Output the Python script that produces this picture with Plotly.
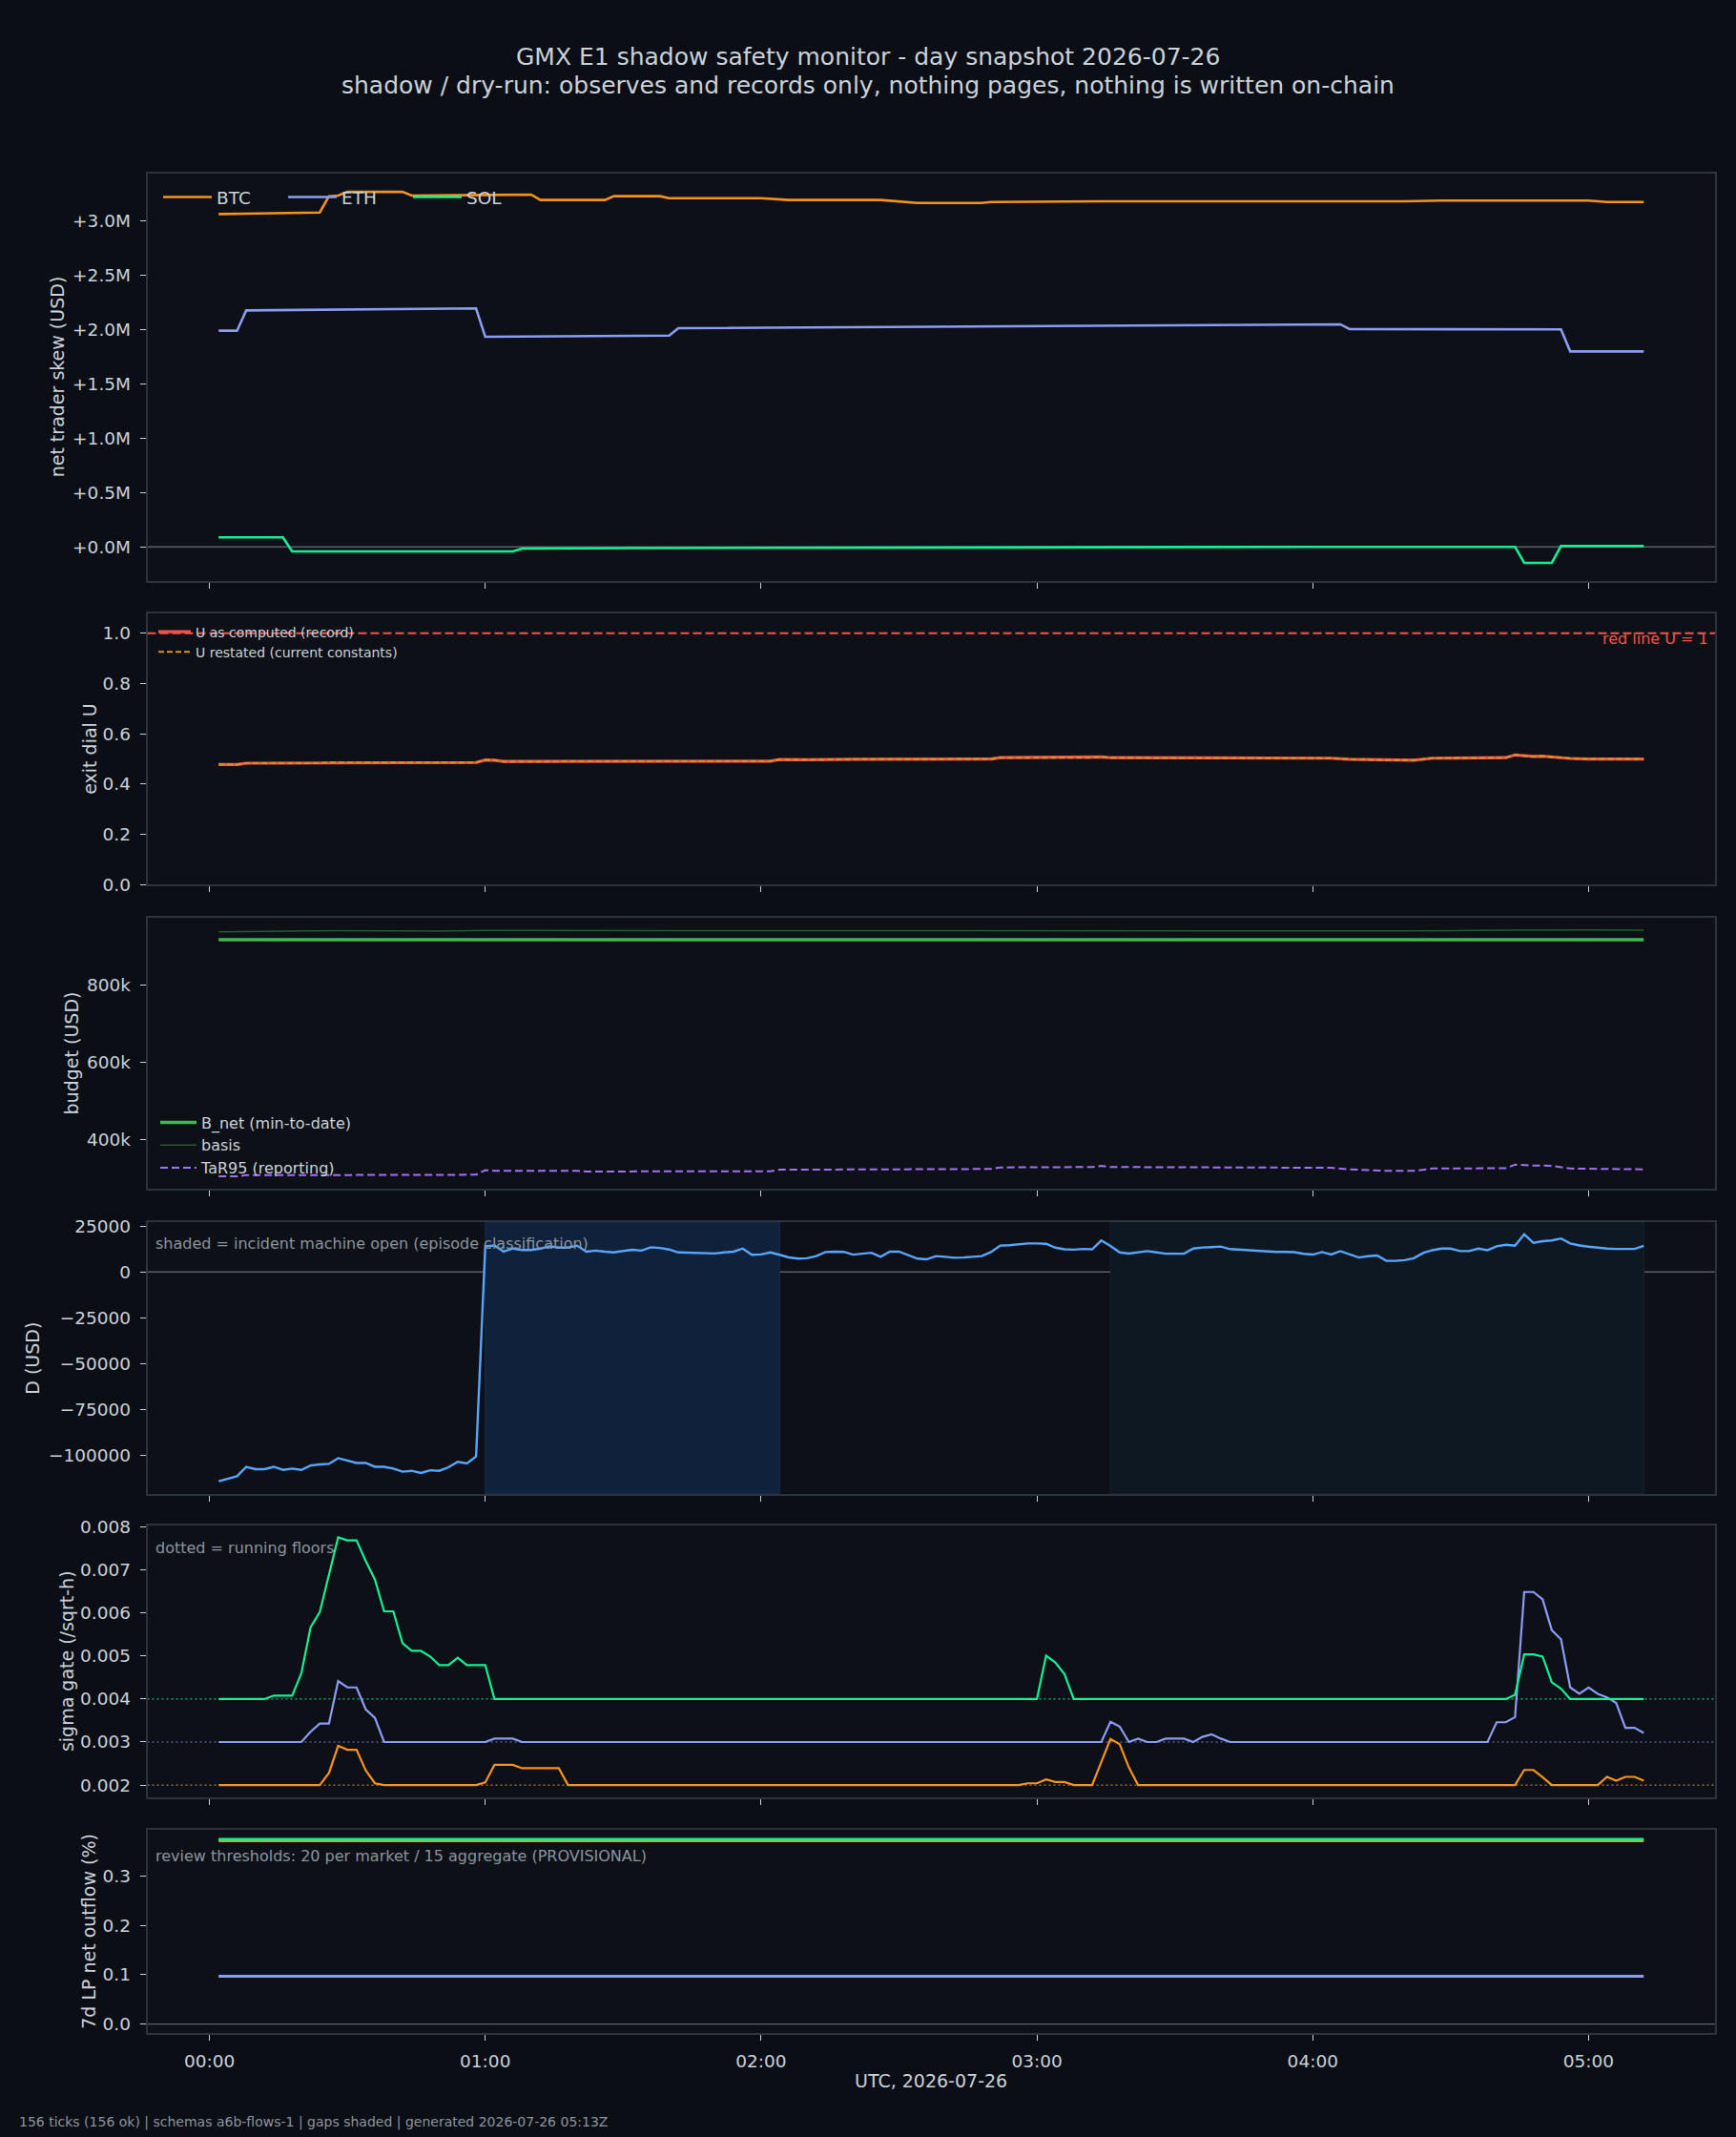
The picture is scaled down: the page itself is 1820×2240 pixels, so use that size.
import pandas as pd
import plotly.graph_objects as go

# ---------------- data (minutes after 00:00 UTC, 2026-07-26) ----------------
DAY = "2026-07-26"

# panel 1: net trader skew (USD, millions)
btc_t = [2, 14, 24, 26, 28, 30, 42, 44, 70, 72, 86, 88, 98, 100, 120, 126, 146, 154, 168, 170, 194, 260, 268, 300, 304, 312]
btc_v = [3.061, 3.070, 3.075, 3.225, 3.230, 3.265, 3.265, 3.230, 3.240, 3.190, 3.190, 3.225, 3.225, 3.207, 3.207, 3.190,
         3.190, 3.163, 3.163, 3.172, 3.178, 3.178, 3.185, 3.185, 3.172, 3.172]
eth_t = [2, 6, 8, 58, 60, 100, 102, 178, 186, 246, 248, 284, 288, 294, 296, 312]
eth_v = [1.988, 1.988, 2.175, 2.193, 1.932, 1.944, 2.011, 2.032, 2.028, 2.047, 2.003, 2.005, 2.000, 2.000, 1.798, 1.798]
sol_t = [2, 16, 18, 66, 68, 92, 94, 240, 284, 286, 292, 294, 312]
sol_v = [0.088, 0.088, -0.041, -0.041, -0.015, -0.015, -0.010, 0.001, 0.001, -0.146, -0.146, 0.008, 0.008]
skew_ticks = [0.0, 0.5, 1.0, 1.5, 2.0, 2.5, 3.0]
skew_labels = ["+0.0M", "+0.5M", "+1.0M", "+1.5M", "+2.0M", "+2.5M", "+3.0M"]

# panel 2: exit dial U
u_t = [2, 6, 8, 24, 26, 58, 60, 62, 64, 100, 122, 124, 130, 140, 150, 160, 170, 172, 186, 192, 194, 196, 210, 224,
       244, 248, 256, 262, 266, 282, 284, 288, 290, 292, 296, 300, 312]
u_v = [0.478, 0.478, 0.483, 0.483, 0.486, 0.486, 0.496, 0.495, 0.490, 0.491, 0.491, 0.498, 0.497, 0.499, 0.500, 0.499,
       0.500, 0.505, 0.506, 0.505, 0.508, 0.505, 0.504, 0.503, 0.503, 0.499, 0.495, 0.495, 0.503, 0.505, 0.516, 0.510,
       0.511, 0.508, 0.502, 0.500, 0.500]
u_red_line = 1.0

# panel 3: budget (USD)
bnet_t = [2, 312]
bnet_v = [917500, 917500]
basis_t = [2, 20, 28, 50, 60, 100, 140, 180, 220, 260, 280, 290, 300, 312]
basis_v = [938000, 939000, 941000, 939500, 941700, 941000, 940500, 941500, 941000, 940000, 942000, 943000, 942500, 942000]
tar_t = [2, 6, 8, 24, 26, 58, 60, 62, 80, 82, 100, 122, 124, 130, 150, 170, 172, 192, 194, 196, 224, 244, 248, 256,
         262, 266, 282, 284, 288, 292, 296, 312]
tar_v = [304000, 304000, 306700, 306700, 308000, 308000, 320000, 318000, 318000, 316000, 317000, 317000, 321000, 321000,
         322000, 323000, 327000, 328000, 331000, 328000, 326000, 326000, 322000, 318000, 318000, 324000, 325000, 334000,
         332000, 331000, 324000, 322000]
budget_ticks = [400000, 600000, 800000]
budget_labels = ["400k", "600k", "800k"]

# panel 4: D (USD), one value per 2-minute tick 00:02 .. 05:12
d_v = [-114200, -112800, -111500, -106400, -107600, -107600, -106300, -108000, -107300, -108000,
       -105600, -105000, -104700, -101600, -102800, -104200, -104200, -106300, -106300, -107300,
       -109000, -108500, -109700, -108200, -108500, -106600, -103600, -104500, -100700, 14000,
       14500, 11100, 12800, 12000, 12000, 12800, 14000, 13300, 13300, 14400,
       11100, 11700, 11100, 10700, 11500, 12100, 11700, 13500, 13100, 12300,
       10700, 10600, 10600, 10300, 10100, 10700, 11100, 12800, 9400, 9600,
       10700, 9400, 8000, 7300, 7500, 8700, 10900, 11100, 11000, 9500,
       9900, 10500, 8300, 11100, 11100, 9000, 7300, 6900, 8700, 8300,
       7800, 7900, 8200, 8700, 10900, 14400, 14600, 15000, 15600, 15600,
       15400, 13300, 12400, 12200, 12600, 12400, 17200, 14200, 10700, 10100,
       10600, 11400, 10700, 10000, 10000, 10000, 12800, 13400, 13600, 13900,
       12500, 12200, 11900, 11400, 11000, 11000, 11000, 10800, 9900, 9500,
       10900, 9600, 11400, 9700, 7900, 8600, 9000, 6100, 6100, 6500,
       7500, 10400, 11900, 12800, 12800, 11400, 11400, 12800, 11900, 14000,
       14900, 14400, 20600, 15900, 16800, 17200, 18300, 15600, 14500, 13800,
       13200, 12800, 12600, 12600, 12600, 14300]
incident_windows = [(60, 124), (196, 312)]
d_ticks = [-100000, -75000, -50000, -25000, 0, 25000]
d_labels = ["\u2212100000", "\u221275000", "\u221250000", "\u221225000", "0", "25000"]

# panel 5: sigma gate (/sqrt-h)
sig_btc_t = [2, 24, 26, 28, 30, 32, 34, 36, 38, 58, 60, 62, 64, 66, 68, 70, 72, 74, 76, 78, 176, 178, 180, 182, 184,
             186, 188, 192, 194, 196, 198, 200, 202, 284, 286, 288, 290, 292, 302, 304, 306, 308, 310, 312]
sig_btc_v = [0.002, 0.002, 0.00228, 0.00291, 0.00282, 0.00282, 0.00234, 0.00204, 0.002, 0.002, 0.00206, 0.00247,
             0.00247, 0.00247, 0.00239, 0.00239, 0.00239, 0.00239, 0.00239, 0.002, 0.002, 0.00204, 0.00204, 0.00213,
             0.00207, 0.00207, 0.002, 0.002, 0.00254, 0.00307, 0.00295, 0.00241, 0.002, 0.002, 0.00235, 0.00235,
             0.00218, 0.002, 0.002, 0.00219, 0.0021, 0.00219, 0.00219, 0.0021]
sig_eth_t = [2, 20, 22, 24, 26, 28, 30, 32, 34, 36, 38, 60, 62, 64, 66, 68, 194, 196, 198, 200, 202, 204, 206, 208,
             210, 212, 214, 216, 218, 220, 222, 278, 280, 282, 284, 286, 288, 290, 292, 294, 296, 298, 300, 302, 304,
             306, 308, 310, 312]
sig_eth_v = [0.003, 0.003, 0.00324, 0.00343, 0.00343, 0.00442, 0.00427, 0.00427, 0.00376, 0.00356, 0.003, 0.003,
             0.00308, 0.00308, 0.00308, 0.003, 0.003, 0.00347, 0.00336, 0.003, 0.00308, 0.003, 0.003, 0.00308,
             0.00308, 0.00308, 0.003, 0.00312, 0.00318, 0.00308, 0.003, 0.003, 0.00346, 0.00346, 0.00358, 0.00649,
             0.00649, 0.00632, 0.0056, 0.00539, 0.00427, 0.00412, 0.00427, 0.00412, 0.00404, 0.00391, 0.00333,
             0.00333, 0.00321]
sig_sol_t = [2, 12, 14, 18, 20, 22, 24, 26, 28, 30, 32, 34, 36, 38, 40, 42, 44, 46, 48, 50, 52, 54, 56, 58, 60, 62,
             180, 182, 184, 186, 188, 282, 284, 286, 288, 290, 292, 294, 296, 312]
sig_sol_v = [0.004, 0.004, 0.00408, 0.00408, 0.0046, 0.00567, 0.00602, 0.00691, 0.00776, 0.00769, 0.00769, 0.00721,
             0.00678, 0.00604, 0.00604, 0.0053, 0.00512, 0.00512, 0.00499, 0.00479, 0.00479, 0.00496, 0.00479,
             0.00479, 0.00479, 0.004, 0.004, 0.00501, 0.00485, 0.00458, 0.004, 0.004, 0.0041, 0.00504, 0.00504,
             0.00499, 0.00439, 0.00424, 0.004, 0.004]
sig_floors = {"BTC": 0.002, "ETH": 0.003, "SOL": 0.004}
sig_ticks = [0.002, 0.003, 0.004, 0.005, 0.006, 0.007, 0.008]

# panel 6: 7d LP net outflow (%)
lp_t = [2, 312]
lp_btc = [0.372, 0.372]
lp_eth = [0.097, 0.097]
lp_sol = [0.375, 0.375]
lp_ticks = [0.0, 0.1, 0.2, 0.3]

hour_ticks = ["00:00", "01:00", "02:00", "03:00", "04:00", "05:00"]

# ---------------- styling ----------------
W, H = 1820, 2240
BG_PAPER = "#0b0f15"
BG_PLOT = "#0d1117"
SPINE = "#2d333b"
TXT = "#c9d1d9"
MUTED = "#8b949e"
C_BTC, C_ETH, C_SOL = "#f7931a", "#8b9cf4", "#14f195"
FONT = "DejaVu Sans"

base = pd.Timestamp(DAY)


def ts(mins):
    return base + pd.to_timedelta(mins, unit="m")


def px_x(x):
    return x / W


def px_y(y):
    return 1 - y / H


x_left, x_right = 154.5, 1798.0
panels = [(181.7, 609.0), (642.7, 927.3), (961.7, 1246.3), (1281.0, 1565.7), (1599.0, 1884.0), (1918.3, 2131.3)]
y_ranges = [[-0.313, 3.435], [0.0, 1.08], [271000, 975000], [-121000, 27240], [0.0017125, 0.0080375],
            [-0.01875, 0.39375]]
x_range = [base - pd.Timedelta(minutes=13.5), base + pd.Timedelta(minutes=327.5)]

fig = go.Figure()

# panel 1
for name, t, v, c in [("BTC", btc_t, btc_v, C_BTC), ("ETH", eth_t, eth_v, C_ETH), ("SOL", sol_t, sol_v, C_SOL)]:
    fig.add_trace(go.Scatter(x=ts(t), y=v, name=name, mode="lines", line=dict(color=c, width=2.6),
                             xaxis="x", yaxis="y", legend="legend"))

# panel 2
fig.add_trace(go.Scatter(x=ts(u_t), y=u_v, name="U as computed (record)", mode="lines",
                         line=dict(color="#f85149", width=3.2), xaxis="x2", yaxis="y2", legend="legend2",
                         legendgroup="a"))
fig.add_trace(go.Scatter(x=ts(u_t), y=u_v, name="U restated (current constants)", mode="lines",
                         line=dict(color="#d29922", width=2, dash="6px,3px"), xaxis="x2", yaxis="y2",
                         legend="legend2", legendgroup="b"))

# panel 3
fig.add_trace(go.Scatter(x=ts(bnet_t), y=bnet_v, name="B_net (min-to-date)", mode="lines",
                         line=dict(color="#3fb950", width=3.5), xaxis="x3", yaxis="y3", legend="legend3",
                         legendgroup="a"))
fig.add_trace(go.Scatter(x=ts(basis_t), y=basis_v, name="basis", mode="lines",
                         line=dict(color="#1f5f2e", width=1.5), xaxis="x3", yaxis="y3", legend="legend3",
                         legendgroup="b"))
fig.add_trace(go.Scatter(x=ts(tar_t), y=tar_v, name="TaR95 (reporting)", mode="lines",
                         line=dict(color="#a371f7", width=2, dash="8px,4px"), xaxis="x3", yaxis="y3",
                         legend="legend3", legendgroup="c"))

# panel 4
fig.add_trace(go.Scatter(x=pd.date_range(ts(2), periods=len(d_v), freq="2min"), y=d_v, mode="lines",
                         line=dict(color="#58a6ff", width=2.4), xaxis="x4", yaxis="y4", showlegend=False))

# panel 5
for t, v, c in [(sig_btc_t, sig_btc_v, C_BTC), (sig_eth_t, sig_eth_v, C_ETH), (sig_sol_t, sig_sol_v, C_SOL)]:
    fig.add_trace(go.Scatter(x=ts(t), y=v, mode="lines", line=dict(color=c, width=2.2),
                             xaxis="x5", yaxis="y5", showlegend=False))

# panel 6
for v, c in [(lp_btc, C_BTC), (lp_eth, C_ETH), (lp_sol, C_SOL)]:
    fig.add_trace(go.Scatter(x=ts(lp_t), y=v, mode="lines", line=dict(color=c, width=3),
                             xaxis="x6", yaxis="y6", showlegend=False))

layout = dict(
    width=W, height=H, autosize=False, margin=dict(l=0, r=0, t=0, b=0, pad=0, autoexpand=False),
    paper_bgcolor=BG_PAPER, plot_bgcolor=BG_PLOT,
    font=dict(family=FONT, color=TXT, size=18.5),
    showlegend=True, hovermode=False,
)

y_tick_cfg = [
    dict(tickvals=skew_ticks, ticktext=skew_labels),
    dict(tickvals=[0.0, 0.2, 0.4, 0.6, 0.8, 1.0], tickformat=".1f"),
    dict(tickvals=budget_ticks, ticktext=budget_labels),
    dict(tickvals=d_ticks, ticktext=d_labels),
    dict(tickvals=sig_ticks, tickformat=".3f"),
    dict(tickvals=lp_ticks, tickformat=".1f"),
]

for i, ((top, bot), yr, ycfg) in enumerate(zip(panels, y_ranges, y_tick_cfg), start=1):
    sx = "" if i == 1 else str(i)
    layout["xaxis" + sx] = dict(
        domain=[px_x(x_left), px_x(x_right)], anchor="y" + sx, range=x_range, type="date",
        tickvals=[ts(60 * k) for k in range(len(hour_ticks))], ticktext=hour_ticks,
        showticklabels=(i == 6), ticks="outside", ticklen=6, tickwidth=1.2, tickcolor=TXT,
        showline=True, mirror=True, linecolor=SPINE, linewidth=1.6, showgrid=False, zeroline=False,
        tickfont=dict(size=18.5, color=TXT), ticklabelstandoff=6,
    )
    if i != 1:
        layout["xaxis" + sx]["matches"] = "x"
    yax = dict(
        domain=[px_y(bot), px_y(top)], anchor="x" + sx, range=yr, ticks="outside", ticklen=6, tickwidth=1.2,
        tickcolor=TXT, showline=True, mirror=True, linecolor=SPINE, linewidth=1.6, showgrid=False,
        zeroline=False, tickfont=dict(size=18.5, color=TXT), ticklabelstandoff=6,
    )
    yax.update(ycfg)
    layout["yaxis" + sx] = yax

layout["legend"] = dict(x=px_x(166), y=px_y(207), xanchor="left", yanchor="middle", orientation="h",
                        itemwidth=51, entrywidth=65, entrywidthmode="pixels", bgcolor="rgba(0,0,0,0)",
                        borderwidth=0, font=dict(size=18.5, color=TXT, family=FONT))
layout["legend2"] = dict(x=px_x(161), y=px_y(646.5), xanchor="left", yanchor="top", bgcolor="rgba(0,0,0,0)",
                         itemwidth=34, borderwidth=0, tracegroupgap=0, font=dict(size=14, color=TXT, family=FONT))
layout["legend3"] = dict(x=px_x(163), y=px_y(1159.5), xanchor="left", yanchor="top", bgcolor="rgba(0,0,0,0)",
                         itemwidth=38, borderwidth=0, tracegroupgap=0, font=dict(size=16, color=TXT, family=FONT))

shapes = []
# zero lines
for ax in ["", "4", "6"]:
    shapes.append(dict(type="line", xref="x%s domain" % ax, yref="y" + ax, x0=0, x1=1, y0=0, y1=0,
                       line=dict(color="#5a616b", width=1.4), layer="below"))
# red line U = 1
shapes.append(dict(type="line", xref="x2 domain", yref="y2", x0=0, x1=1, y0=u_red_line, y1=u_red_line,
                   line=dict(color="#f85149", width=2, dash="9px,4px"), layer="above"))
# incident windows
for (a, b), fc, lc in zip(incident_windows, ["#0f213b", "#0e1822"], ["#17304f", "#142230"]):
    shapes.append(dict(type="rect", xref="x4", yref="y4 domain", x0=ts(a), x1=ts(b), y0=0, y1=1,
                       fillcolor=fc, line=dict(color=lc, width=1), layer="below"))
# running floors
for k, c in [("BTC", C_BTC), ("ETH", C_ETH), ("SOL", C_SOL)]:
    shapes.append(dict(type="line", xref="x5 domain", yref="y5", x0=0, x1=1, y0=sig_floors[k], y1=sig_floors[k],
                       line=dict(color=c, width=1.2, dash="2px,3px"), layer="below", opacity=0.8))
layout["shapes"] = shapes

ann = []


def text(x, y, s, size, color=TXT, xanchor="left", angle=0):
    ann.append(dict(x=px_x(x), y=px_y(y), xref="paper", yref="paper", text=s, showarrow=False,
                    xanchor=xanchor, yanchor="middle", textangle=angle,
                    font=dict(size=size, color=color, family=FONT)))


text(910, 59.3, "GMX E1 shadow safety monitor - day snapshot 2026-07-26", 25, xanchor="center")
text(910, 89.3, "shadow / dry-run: observes and records only, nothing pages, nothing is written on-chain", 25,
     xanchor="center")
ylabels = ["net trader skew (USD)", "exit dial U", "budget (USD)", "D (USD)", "sigma gate (/sqrt-h)",
           "7d LP net outflow (%)"]
ylabel_x = [60, 93.8, 75.4, 34.4, 69.6, 93]
for (top, bot), lab, lx in zip(panels, ylabels, ylabel_x):
    text(lx, (top + bot) / 2, lab, 19, xanchor="center", angle=-90)
text(1793, 670, "red line U = 1", 16, color="#f85149", xanchor="right")
text(161, 1303.7, "shaded = incident machine open (episode classification)", 16, color=MUTED)
text(161, 1622.3, "dotted = running floors", 16, color=MUTED)
text(161, 1945, "review thresholds: 20 per market / 15 aggregate (PROVISIONAL)", 16, color=MUTED)
text(976, 2180.7, "UTC, 2026-07-26", 19, xanchor="center")
text(18, 2224, "156 ticks (156 ok) | schemas a6b-flows-1 | gaps shaded | generated 2026-07-26 05:13Z", 14,
     color=MUTED)
layout["annotations"] = ann

fig.update_layout(**layout)
fig.write_html("out.html",
               post_script="document.body.style.margin='0px';document.body.style.padding='0px';"
                           "document.documentElement.style.overflow='hidden';")
